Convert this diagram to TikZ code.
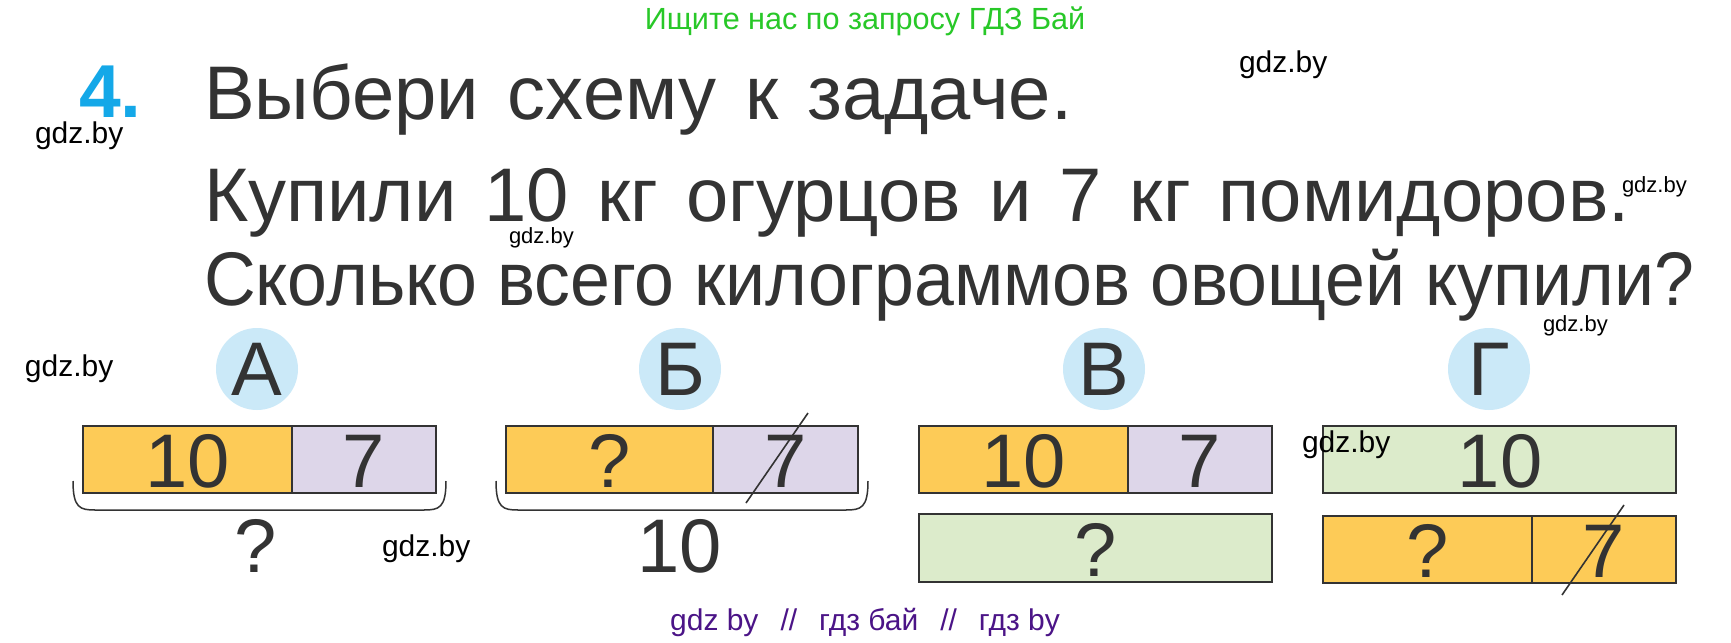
\documentclass[tikz,border=0pt]{standalone}
\usepackage{fontspec}
\setmainfont{Liberation Sans}
\usetikzlibrary{shapes.geometric}
\definecolor{ink}{RGB}{51,51,51}
\definecolor{orangeF}{RGB}{253,203,87}
\definecolor{lilacF}{RGB}{221,214,233}
\definecolor{greenF}{RGB}{220,235,203}
\definecolor{circF}{RGB}{203,233,248}
\definecolor{blueN}{RGB}{20,168,232}
\definecolor{greenH}{RGB}{40,200,40}
\definecolor{purpleT}{RGB}{75,20,135}
\begin{document}
\begin{tikzpicture}[x=0.5pt,y=-0.5pt,
  every node/.style={inner sep=0pt, outer sep=0pt, text=ink},
  big/.style={font=\fontsize{38}{40}\selectfont},
  wm/.style={font=\fontsize{15}{16}\selectfont, text=black, anchor=base west},
  wms/.style={font=\fontsize{11}{12}\selectfont, text=black, anchor=base west},
  circ/.style={ellipse, fill=circF, minimum width=41pt, minimum height=41pt, big},
  cell/.style={draw=ink, line width=1.3pt},
  strike/.style={draw=ink, line width=0.8pt},
  brace/.style={draw=ink, line width=0.75pt}
]
\useasboundingbox (0,0) rectangle (1731,643);
\fill[white] (0,0) rectangle (1731,643);

% header
\node[font=\fontsize{15.3}{16}\selectfont, text=greenH, anchor=base] (hdr) at (865,29) {Ищите нас по запросу ГДЗ Бай};

% number and task text
\node[font=\fontsize{37.5}{40}\bfseries, text=blueN, anchor=base west] (num) at (79,117) {4.};
\node[big, anchor=base west] (l1) at (204,119) {\spaceskip=14.4pt Выбери схему к задаче.};
\node[big, anchor=base west] (l2) at (204,221) {\spaceskip=14pt Купили 10 кг огурцов и 7 кг помидоров.};
\node[big, anchor=base west] (l3) at (204,305) {\scalebox{0.943}[1]{Сколько всего килограммов овощей купили?}};

% circles with letters
\node[circ] (cA) at (257,369) {А};
\node[circ] (cB) at (680,369) {Б};
\node[circ] (cV) at (1104,369) {В};
\node[circ] (cG) at (1489,369) {Г};

% scheme A
\fill[orangeF] (83,426) rectangle (292,493);
\fill[lilacF] (292,426) rectangle (436,493);
\draw[cell] (83,426) rectangle (436,493) (292,426) -- (292,493);
\node[big, anchor=base] (a10) at (188,487) {10};
\node[big, anchor=base] (a7) at (364,487) {7};
\draw[brace] (73,481) .. controls (73,508) and (80,510) .. (95,510) -- (424,510) .. controls (439,510) and (446,508) .. (446,481);
\node[big, anchor=base] (aq) at (256,572) {?};

% scheme B
\fill[orangeF] (506,426) rectangle (713,493);
\fill[lilacF] (713,426) rectangle (858,493);
\draw[cell] (506,426) rectangle (858,493) (713,426) -- (713,493);
\node[big, anchor=base] (bq) at (610,487) {?};
\node[big, anchor=base] (b7) at (786,487) {7};
\coordinate (bs1) at (808,413);
\coordinate (bs2) at (746,503);
\draw[strike] (bs1) -- (bs2);
\draw[brace] (496,481) .. controls (496,508) and (503,510) .. (518,510) -- (846,510) .. controls (861,510) and (868,508) .. (868,481);
\node[big, anchor=base] (b10) at (680,572) {10};

% scheme V
\fill[orangeF] (919,426) rectangle (1128,493);
\fill[lilacF] (1128,426) rectangle (1272,493);
\draw[cell] (919,426) rectangle (1272,493) (1128,426) -- (1128,493);
\node[big, anchor=base] (v10) at (1024,487) {10};
\node[big, anchor=base] (v7) at (1200,487) {7};
\filldraw[cell, fill=greenF] (919,514) rectangle (1272,582);
\node[big, anchor=base] (vq) at (1096,576) {?};

% scheme G
\filldraw[cell, fill=greenF] (1323,426) rectangle (1676,493);
\node[big, anchor=base] (g10) at (1500,487) {10};
\fill[orangeF] (1323,516) rectangle (1676,583);
\draw[cell] (1323,516) rectangle (1676,583) (1532,516) -- (1532,583);
\node[big, anchor=base] (gq) at (1428,577) {?};
\node[big, anchor=base] (g7) at (1604,577) {7};
\coordinate (gs1) at (1624,505);
\coordinate (gs2) at (1562,595);
\draw[strike] (gs1) -- (gs2);

% watermarks
\node[wm] (w1) at (35,143) {gdz.by};
\node[wm] (w2) at (1239,72) {gdz.by};
\node[wms] (w3) at (509,243) {gdz.by};
\node[wms] (w4) at (1622,192) {gdz.by};
\node[wms] (w5) at (1543,331) {gdz.by};
\node[wm] (w6) at (25,376) {gdz.by};
\node[wm] (w7) at (382,556) {gdz.by};
\node[wm] (w8) at (1302,452) {gdz.by};

% footer
\node[font=\fontsize{15}{16}\selectfont, text=purpleT, anchor=base] (ftr) at (865,630) {gdz by\hspace{11pt}//\hspace{11pt}гдз бай\hspace{11pt}//\hspace{11pt}гдз by};
\end{tikzpicture}
\end{document}
